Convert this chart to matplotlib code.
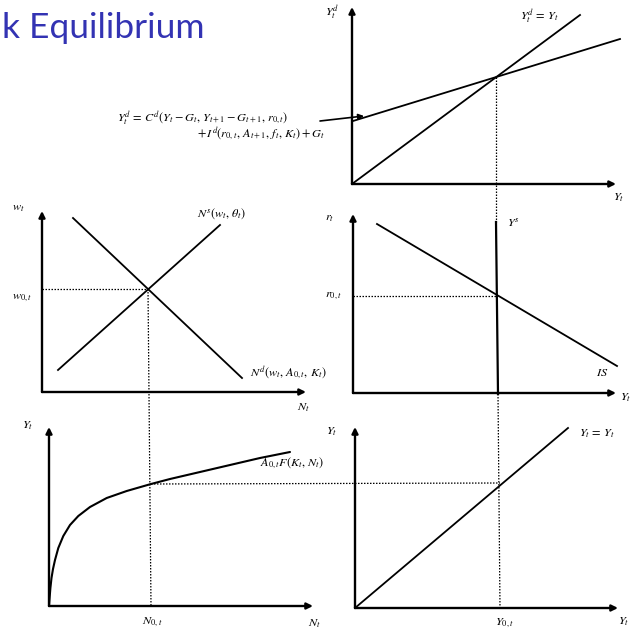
import matplotlib

matplotlib.use("Agg")

import matplotlib.pyplot as plt

plt.rcParams["mathtext.fontset"] = "stix"

# Diagram drawn on a canvas whose units are pixels (origin top-left).
W, H = 631, 629

TITLE = "k Equilibrium"
TITLE_COLOR = "#3333B3"

# --- Panel axes: (origin, y-arrow tip, x-arrow tip) -----------------------
axes_origin = [(352, 184), (42, 392), (353, 393), (49, 606), (355, 608)]
axes_ytip = [(352, 7), (42, 211), (353, 214), (49, 427), (355, 427)]
axes_xtip = [(616, 184), (306, 392), (616, 393), (313, 606), (618, 608)]

# --- Goods market (top right) -------------------------------------------
ad_x = [353, 620]          # aggregate demand line
ad_y = [121, 39]
diag_top_x = [352, 580]    # Y^d = Y line
diag_top_y = [184, 15]
eq_arrow_from = (320, 121)
eq_arrow_to = (364, 116)

# --- Labour market (middle left) ----------------------------------------
ns_x = [58, 220]
ns_y = [370, 225]
nd_x = [73, 242]
nd_y = [218, 378]
w0 = 289
n0 = 148

# --- Interest rate / output (middle right) ------------------------------
is_x = [377, 617]
is_y = [224, 366]
ys_x = [496, 498]
ys_y = [222, 394]
r0 = 296

prod_x = [49, 49.6, 50.4, 51.5, 53, 55, 58.3, 63.3, 70, 78.3, 90, 106.7, 126.7, 151, 170, 200, 230, 260, 290]
prod_y = [606, 598, 588, 578, 569, 560, 548, 536, 525, 516, 507, 498, 491, 484, 479, 472, 465, 458, 452]
y0_level = 484

# --- 45-degree line (bottom right) --------------------------------------
diag_bot_x = [355, 568]
diag_bot_y = [608, 428]
y0_pos = 500

fig = plt.figure(figsize=(W / 100, H / 100), dpi=100)
ax = fig.add_axes([0, 0, 1, 1])
ax.set_xlim(0, W)
ax.set_ylim(H, 0)
ax.axis("off")

AX_LW = 1.7
LINE_LW = 1.3
DOT = dict(color="black", lw=0.9, linestyle=(0, (1.2, 1.2)))
arrow_kw = dict(arrowstyle="-|>", color="black", lw=AX_LW, mutation_scale=9, shrinkA=0, shrinkB=0)

for o, yt, xt in zip(axes_origin, axes_ytip, axes_xtip):
    ax.annotate("", xy=yt, xytext=o, arrowprops=arrow_kw)
    ax.annotate("", xy=xt, xytext=o, arrowprops=arrow_kw)

# goods market
ax.plot(ad_x, ad_y, color="black", lw=LINE_LW)
ax.plot(diag_top_x, diag_top_y, color="black", lw=LINE_LW)
ax.annotate("", xy=eq_arrow_to, xytext=eq_arrow_from,
            arrowprops=dict(arrowstyle="-|>", color="black", lw=1.2, mutation_scale=8, shrinkA=0, shrinkB=0))
ax.plot([496, 496], [77, 222], **DOT)

# labour market
ax.plot(ns_x, ns_y, color="black", lw=LINE_LW)
ax.plot(nd_x, nd_y, color="black", lw=LINE_LW)
ax.plot([42, n0], [w0, w0], **DOT)
ax.plot([n0, 151], [w0, 606], **DOT)

# output / interest rate
ax.plot(is_x, is_y, color="black", lw=LINE_LW)
ax.plot(ys_x, ys_y, color="black", lw=LINE_LW + 0.3)
ax.plot([353, 496], [r0, r0], **DOT)
ax.plot([498, y0_pos], [394, 608], **DOT)

# production function
ax.plot(prod_x, prod_y, color="black", lw=LINE_LW + 0.2, solid_capstyle="round")
ax.plot([151, y0_pos], [y0_level, 483], **DOT)

# 45-degree line
ax.plot(diag_bot_x, diag_bot_y, color="black", lw=LINE_LW)

# title
ax.text(2, 38, TITLE, color=TITLE_COLOR, fontsize=25.5, family="Lato",
        ha="left", va="baseline")

FS = 8.8
labels = [
    (332, 13, r"$Y_t^d$", "center"),
    (520, 17, r"$Y_t^d\,=\,Y_t$", "left"),
    (619, 198, r"$Y_t$", "center"),
    (117, 118.5, r"$Y_t^d\,=\,C^d(Y_t-G_t,\,Y_{t+1}-G_{t+1},\,r_{0,t})$", "left"),
    (197, 134.5, r"$+\,I^d(r_{0,t},\,A_{t+1},\,f_t,\,K_t)+G_t$", "left"),
    (18, 207, r"$w_t$", "center"),
    (197, 214, r"$N^s(w_t,\,\theta_t)$", "left"),
    (22, 298, r"$w_{0,t}$", "center"),
    (250, 373, r"$N^d(w_t,\,A_{0,t},\,K_t)$", "left"),
    (303, 408, r"$N_t$", "center"),
    (330, 218, r"$r_t$", "center"),
    (514, 223, r"$Y^s$", "center"),
    (333, 296, r"$r_{0,t}$", "center"),
    (602, 373, r"$IS$", "center"),
    (626, 398, r"$Y_t$", "center"),
    (28, 425, r"$Y_t$", "center"),
    (260, 463, r"$A_{0,t}F(K_t,\,N_t)$", "left"),
    (152, 622, r"$N_{0,t}$", "center"),
    (314, 624, r"$N_t$", "center"),
    (332, 432, r"$Y_t$", "center"),
    (579, 433, r"$Y_t\,=\,Y_t$", "left"),
    (504, 623, r"$Y_{0,t}$", "center"),
    (624, 622, r"$Y_t$", "center"),
]
for x, y, s, ha in labels:
    ax.text(x, y, s, fontsize=FS, ha=ha, va="center")

fig.savefig("out.png", dpi=100)
